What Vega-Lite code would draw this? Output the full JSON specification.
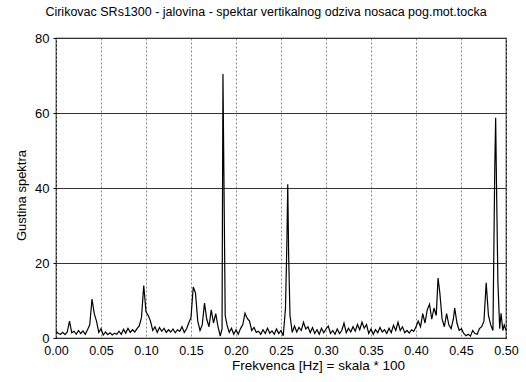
{
  "$schema": "https://vega.github.io/schema/vega-lite/v6.json",
  "autosize": {"type": "none"},
  "padding": {"left": 56, "top": 38, "right": 20, "bottom": 44},
  "width": 450,
  "height": 300,
  "background": "white",
  "title": {"text": "Cirikovac SRs1300 - jalovina - spektar vertikalnog odziva nosaca pog.mot.tocka", "font": "Liberation Sans", "fontSize": 12.5, "fontWeight": "normal", "color": "black", "anchor": "middle", "dx": -15, "offset": 14},
  "config": {
    "view": {"stroke": "black", "strokeWidth": 1.2},
    "axis": {"labelFont": "Liberation Sans", "titleFont": "Liberation Sans", "labelColor": "black", "titleColor": "black", "titleFontWeight": "normal", "domain": false}
  },
  "data": {"values": [
    {"f": 0.0, "g": 1.8}, {"f": 0.0025, "g": 1.2}, {"f": 0.005, "g": 1.0}, {"f": 0.0075, "g": 1.5}, {"f": 0.01, "g": 0.9},
    {"f": 0.0125, "g": 1.6}, {"f": 0.015, "g": 4.5}, {"f": 0.0175, "g": 1.4}, {"f": 0.02, "g": 1.8}, {"f": 0.0225, "g": 1.0},
    {"f": 0.025, "g": 2.0}, {"f": 0.0275, "g": 1.2}, {"f": 0.03, "g": 1.9}, {"f": 0.0325, "g": 1.0}, {"f": 0.035, "g": 2.2},
    {"f": 0.0375, "g": 3.5}, {"f": 0.04, "g": 10.4}, {"f": 0.0425, "g": 6.5}, {"f": 0.045, "g": 4.5}, {"f": 0.0475, "g": 1.5},
    {"f": 0.05, "g": 2.5}, {"f": 0.0525, "g": 0.8}, {"f": 0.055, "g": 1.6}, {"f": 0.0575, "g": 0.9}, {"f": 0.06, "g": 1.4},
    {"f": 0.0625, "g": 0.8}, {"f": 0.065, "g": 1.3}, {"f": 0.0675, "g": 1.0}, {"f": 0.07, "g": 1.8}, {"f": 0.0725, "g": 1.0},
    {"f": 0.075, "g": 2.3}, {"f": 0.0775, "g": 1.3}, {"f": 0.08, "g": 2.6}, {"f": 0.0825, "g": 1.5}, {"f": 0.085, "g": 2.2},
    {"f": 0.0875, "g": 1.6}, {"f": 0.09, "g": 2.5}, {"f": 0.0925, "g": 3.2}, {"f": 0.095, "g": 5.5}, {"f": 0.0975, "g": 14.0},
    {"f": 0.1, "g": 7.0}, {"f": 0.1025, "g": 6.0}, {"f": 0.105, "g": 4.5}, {"f": 0.1075, "g": 2.0}, {"f": 0.11, "g": 3.0},
    {"f": 0.1125, "g": 1.5}, {"f": 0.115, "g": 2.8}, {"f": 0.1175, "g": 1.8}, {"f": 0.12, "g": 2.6}, {"f": 0.1225, "g": 1.5},
    {"f": 0.125, "g": 2.2}, {"f": 0.1275, "g": 1.6}, {"f": 0.13, "g": 2.4}, {"f": 0.1325, "g": 1.4}, {"f": 0.135, "g": 2.2},
    {"f": 0.1375, "g": 1.8}, {"f": 0.14, "g": 3.0}, {"f": 0.1425, "g": 1.5}, {"f": 0.145, "g": 2.4}, {"f": 0.1475, "g": 4.0},
    {"f": 0.15, "g": 5.5}, {"f": 0.1525, "g": 13.6}, {"f": 0.155, "g": 12.0}, {"f": 0.1575, "g": 4.5}, {"f": 0.16, "g": 2.0},
    {"f": 0.1625, "g": 3.5}, {"f": 0.165, "g": 9.3}, {"f": 0.1675, "g": 5.0}, {"f": 0.17, "g": 3.0}, {"f": 0.1725, "g": 7.5},
    {"f": 0.175, "g": 4.0}, {"f": 0.1775, "g": 6.5}, {"f": 0.18, "g": 3.0}, {"f": 0.1825, "g": 0.5}, {"f": 0.1845, "g": 2.5},
    {"f": 0.1855, "g": 70.4}, {"f": 0.1865, "g": 45.0}, {"f": 0.188, "g": 6.0}, {"f": 0.19, "g": 3.5}, {"f": 0.1925, "g": 1.5},
    {"f": 0.195, "g": 2.6}, {"f": 0.1975, "g": 1.0}, {"f": 0.2, "g": 2.2}, {"f": 0.2025, "g": 1.0}, {"f": 0.205, "g": 2.5},
    {"f": 0.2075, "g": 3.5}, {"f": 0.21, "g": 6.6}, {"f": 0.2125, "g": 5.2}, {"f": 0.215, "g": 4.5}, {"f": 0.2175, "g": 2.0},
    {"f": 0.22, "g": 2.8}, {"f": 0.2225, "g": 1.5}, {"f": 0.225, "g": 1.8}, {"f": 0.2275, "g": 1.0}, {"f": 0.23, "g": 2.2},
    {"f": 0.2325, "g": 1.2}, {"f": 0.235, "g": 2.6}, {"f": 0.2375, "g": 1.3}, {"f": 0.24, "g": 1.9}, {"f": 0.2425, "g": 1.0},
    {"f": 0.245, "g": 2.4}, {"f": 0.2475, "g": 1.2}, {"f": 0.25, "g": 2.0}, {"f": 0.2525, "g": 0.6}, {"f": 0.255, "g": 8.0},
    {"f": 0.2565, "g": 25.0}, {"f": 0.2575, "g": 41.0}, {"f": 0.2585, "g": 22.0}, {"f": 0.26, "g": 6.0}, {"f": 0.2625, "g": 1.5},
    {"f": 0.265, "g": 3.2}, {"f": 0.2675, "g": 1.6}, {"f": 0.27, "g": 2.8}, {"f": 0.2725, "g": 2.0}, {"f": 0.275, "g": 4.2},
    {"f": 0.2775, "g": 2.4}, {"f": 0.28, "g": 3.0}, {"f": 0.2825, "g": 1.4}, {"f": 0.285, "g": 2.8}, {"f": 0.2875, "g": 1.2},
    {"f": 0.29, "g": 2.2}, {"f": 0.2925, "g": 1.0}, {"f": 0.295, "g": 2.6}, {"f": 0.2975, "g": 1.4}, {"f": 0.3, "g": 2.4},
    {"f": 0.3025, "g": 3.2}, {"f": 0.305, "g": 1.2}, {"f": 0.3075, "g": 2.0}, {"f": 0.31, "g": 1.0}, {"f": 0.3125, "g": 2.4},
    {"f": 0.315, "g": 1.2}, {"f": 0.3175, "g": 2.0}, {"f": 0.32, "g": 4.0}, {"f": 0.3225, "g": 1.4}, {"f": 0.325, "g": 2.6},
    {"f": 0.3275, "g": 1.6}, {"f": 0.33, "g": 3.0}, {"f": 0.3325, "g": 1.8}, {"f": 0.335, "g": 3.6}, {"f": 0.3375, "g": 2.2},
    {"f": 0.34, "g": 4.2}, {"f": 0.3425, "g": 2.6}, {"f": 0.345, "g": 3.6}, {"f": 0.3475, "g": 1.2}, {"f": 0.35, "g": 2.4},
    {"f": 0.3525, "g": 1.0}, {"f": 0.355, "g": 2.2}, {"f": 0.3575, "g": 1.4}, {"f": 0.36, "g": 2.8}, {"f": 0.3625, "g": 1.6},
    {"f": 0.365, "g": 2.2}, {"f": 0.3675, "g": 1.2}, {"f": 0.37, "g": 2.6}, {"f": 0.3725, "g": 1.4}, {"f": 0.375, "g": 3.4},
    {"f": 0.3775, "g": 2.0}, {"f": 0.38, "g": 4.2}, {"f": 0.3825, "g": 2.0}, {"f": 0.385, "g": 3.0}, {"f": 0.3875, "g": 1.4},
    {"f": 0.39, "g": 2.0}, {"f": 0.3925, "g": 1.3}, {"f": 0.395, "g": 2.2}, {"f": 0.3975, "g": 1.8}, {"f": 0.4, "g": 3.0},
    {"f": 0.4025, "g": 4.5}, {"f": 0.405, "g": 3.0}, {"f": 0.4075, "g": 6.5}, {"f": 0.41, "g": 4.0}, {"f": 0.4125, "g": 7.5},
    {"f": 0.415, "g": 9.0}, {"f": 0.4175, "g": 5.0}, {"f": 0.42, "g": 8.0}, {"f": 0.4225, "g": 6.0}, {"f": 0.4245, "g": 16.0},
    {"f": 0.4265, "g": 12.0}, {"f": 0.429, "g": 5.0}, {"f": 0.4315, "g": 3.0}, {"f": 0.434, "g": 6.5}, {"f": 0.4365, "g": 3.5},
    {"f": 0.439, "g": 2.5}, {"f": 0.4415, "g": 5.0}, {"f": 0.443, "g": 8.0}, {"f": 0.4455, "g": 4.0}, {"f": 0.448, "g": 2.0},
    {"f": 0.4505, "g": 2.5}, {"f": 0.453, "g": 1.2}, {"f": 0.4555, "g": 0.6}, {"f": 0.458, "g": 1.0}, {"f": 0.4605, "g": 0.5},
    {"f": 0.463, "g": 2.0}, {"f": 0.4655, "g": 1.2}, {"f": 0.468, "g": 1.0}, {"f": 0.4705, "g": 2.5}, {"f": 0.473, "g": 3.0},
    {"f": 0.4755, "g": 4.5}, {"f": 0.478, "g": 14.7}, {"f": 0.4805, "g": 6.0}, {"f": 0.483, "g": 3.5}, {"f": 0.4855, "g": 2.0},
    {"f": 0.4875, "g": 45.0}, {"f": 0.4885, "g": 58.7}, {"f": 0.4895, "g": 40.0}, {"f": 0.491, "g": 15.0}, {"f": 0.493, "g": 2.5},
    {"f": 0.4945, "g": 6.6}, {"f": 0.4965, "g": 2.0}, {"f": 0.498, "g": 3.5}, {"f": 0.5, "g": 2.0}
  ]},
  "mark": {"type": "line", "color": "black", "strokeWidth": 1.2, "clip": true},
  "encoding": {
    "x": {"field": "f", "type": "quantitative",
      "scale": {"domain": [0, 0.5], "nice": false, "zero": false},
      "axis": {"values": [0, 0.05, 0.1, 0.15, 0.2, 0.25, 0.3, 0.35, 0.4, 0.45, 0.5], "format": ".2f",
        "title": "Frekvenca [Hz] = skala * 100", "titleFontSize": 13.5, "titleX": 262, "titleY": 27, "titleBaseline": "middle", "titleAlign": "center",
        "labelFontSize": 12.5, "labelPadding": 6, "ticks": false, "labelFlush": false,
        "grid": true, "gridColor": "#888", "gridDash": [2, 2], "gridWidth": 1}},
    "y": {"field": "g", "type": "quantitative",
      "scale": {"domain": [0, 80], "nice": false},
      "axis": {"values": [0, 20, 40, 60, 80], "title": "Gustina spektra", "titleFontSize": 13, "titleX": -35, "titleY": 157, "titleBaseline": "middle", "titleAlign": "center",
        "labelFontSize": 13, "labelPadding": 4, "tickSize": 3, "tickColor": "black", "labelFlush": false,
        "grid": true, "gridColor": "#333", "gridWidth": 1}}
  }
}
